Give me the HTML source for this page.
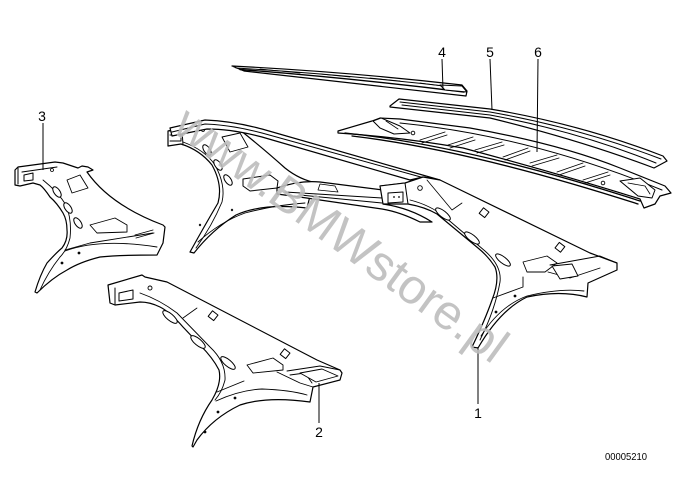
<!DOCTYPE html>
<html><head><meta charset="utf-8"><style>
html,body{margin:0;padding:0;background:#fff;}
svg{display:block;}
text{font-family:"Liberation Sans",Arial,sans-serif;}
</style></head><body>
<svg width="686" height="484" viewBox="0 0 686 484" xmlns="http://www.w3.org/2000/svg">
<rect width="686" height="484" fill="#fff"/>
<g fill="#fff" stroke="#000" stroke-width="1.2" stroke-linejoin="round" stroke-linecap="round">

<!-- PART 4 -->
<path d="M232,66 Q350,72 462,85 L467,91 L466,96 Q350,83 244,71 Z"/>
<path d="M236,68 Q350,75 462,88" fill="none" stroke-width="1"/>
<path d="M240,69.5 Q350,78 464,92" fill="none" stroke-width="1.4"/>
<path d="M260,69 L300,73 M320,74 L350,77 M370,78 L400,81 M420,83 L450,87" fill="none" stroke-width="0.8"/>
<path d="M440,85 L462,86 L467,92 L445,90 Z" stroke-width="1"/>

<!-- PART 5 -->
<path d="M390,106 L399,99 L490,109 Q580,124 663,156 L667,161 L654,168 Q580,140 490,118 L390,107 Z"/>
<path d="M400,102 L490,112 Q580,128 661,159 M402,105 L490,115 Q580,132 656,163" fill="none" stroke-width="1"/>

<!-- PART 6 -->
<path d="M338,131 L372,121 L380,118 L400,119 L470,128 Q560,144 620,168 L665,186 L671,193 L660,196 L655,204 L644,208 L640,199 Q560,174 463,148 Q400,137 338,133 Z"/>
<path d="M400,123 Q530,136 662,190" fill="none" stroke-width="1"/>
<path d="M345,133 Q470,146 640,201 M352,136 Q470,150 638,204" fill="none" stroke-width="1.3"/>
<path d="M373,121 L381,118 L400,126 L410,133 L394,134 L380,128 Z" stroke-width="1"/>
<path d="M386,121 L398,129" fill="none" stroke-width="0.8"/>
<g stroke-width="0.9" fill="none">
<path d="M420,140 L445,132 M422,143 L447,135"/>
<path d="M448,145 L473,137 M450,148 L475,140"/>
<path d="M475,150 L502,142 M477,153 L504,145"/>
<path d="M503,157 L528,148 M505,160 L530,151"/>
<path d="M530,163 L557,155 M532,166 L559,158"/>
<path d="M557,172 L583,163 M559,175 L585,166"/>
<path d="M583,180 L608,172 M585,183 L610,175"/>
</g>
<circle cx="413" cy="133" r="1.8" stroke-width="0.9"/>
<circle cx="603" cy="183" r="1.8" stroke-width="0.9"/>
<path d="M620,181 L640,178 L655,190 L652,198 L638,196 Z" stroke-width="1"/>
<path d="M628,183 L645,186 L650,194" fill="none" stroke-width="0.8"/>

<!-- PART 1 : left pillar -->
<path d="M168,131 L203,123 L240,130 Q265,150 285,168 Q300,180 317,183 L310,196 L307,208 Q262,203 236,215 Q212,230 194,253 L190,252 Q205,225 218,203 Q223,185 212,165 Q200,150 181,144 L168,146 Z"/>
<path d="M183,142 Q205,150 215,165 Q226,185 222,202 Q212,226 196,248" fill="none" stroke-width="0.9"/>
<path d="M198,242 Q220,222 245,213 Q275,205 305,203" fill="none" stroke-width="0.9"/>
<path d="M168,131 L182,130 L183,145 M170,135 L181,135 L181,141 L170,141" fill="none" stroke-width="1"/>
<ellipse cx="207" cy="150" rx="6" ry="3" transform="rotate(55 207 150)" stroke-width="1"/>
<ellipse cx="218" cy="165" rx="6" ry="3" transform="rotate(55 218 165)" stroke-width="1"/>
<ellipse cx="228" cy="180" rx="6" ry="3" transform="rotate(55 228 180)" stroke-width="1"/>
<path d="M243,179 L270,175 L278,181 L277,188 L250,191 L243,186 Z" stroke-width="1"/>
<path d="M222,137 L240,133 L248,147 L230,152 Z" stroke-width="0.9"/>
<circle cx="203" cy="130" r="1.5" stroke-width="0.8"/>
<circle cx="232" cy="210" r="0.8" stroke-width="0.8"/>
<circle cx="200" cy="225" r="0.8" stroke-width="0.8"/>

<!-- PART 1 : crossbar -->
<path d="M277,188 Q300,180 320,182 L383,190 L383,204 Q410,208 432,222 L420,222 Q400,212 382,209 L320,200 Q300,197 292,196 L277,194 Z"/>
<path d="M285,192 L382,198 M300,195 L382,203" fill="none" stroke-width="0.9"/>
<path d="M320,184 L335,186 L338,192 L318,190 Z" stroke-width="0.8"/>

<!-- PART 1 : rail -->
<path d="M170,128 L205,120 Q232,121 262,129 L440,180 L423,177 L410,180 L262,137 Q232,129 207,129 L172,136 Z"/>
<path d="M172,132 L205,124 Q232,125 262,133 L428,179" fill="none" stroke-width="1"/>

<!-- PART 1 : right pillar -->
<path d="M380,186 L405,183 L423,177 L440,180 L590,253 L617,263 L617,270 L588,283 L587,297 Q560,290 527,297 Q500,310 478,348 L472,347 Q485,320 492,300 Q500,280 495,267 Q488,256 478,248 L437,214 Q425,207 408,204 L383,204 Z"/>
<path d="M410,200 Q430,205 445,217 L485,251 Q502,266 500,282 Q495,310 480,340" fill="none" stroke-width="0.9"/>
<path d="M481,336 Q500,306 527,296 Q560,288 584,291" fill="none" stroke-width="0.9"/>
<path d="M493,298 L523,287 L523,277" fill="none" stroke-width="0.9"/>
<path d="M380,186 L405,183 L408,204 M388,193 L403,192 L403,202 L388,203 Z" stroke-width="1"/>
<circle cx="394" cy="197" r="0.9" fill="#000" stroke="none"/>
<circle cx="399" cy="197" r="0.9" fill="#000" stroke="none"/>
<circle cx="420" cy="188" r="2.3" stroke-width="0.9"/>
<path d="M427,180 L452,210 L462,203" fill="none" stroke-width="0.8"/>
<ellipse cx="443" cy="214" rx="9" ry="3.2" transform="rotate(38 443 214)" stroke-width="1"/>
<ellipse cx="472" cy="238" rx="9" ry="3.2" transform="rotate(38 472 238)" stroke-width="1"/>
<ellipse cx="503" cy="260" rx="9" ry="3.2" transform="rotate(38 503 260)" stroke-width="1"/>
<rect x="481" y="209" width="7" height="7" transform="rotate(38 484 212)" stroke-width="1"/>
<rect x="556" y="244" width="7" height="7" transform="rotate(38 560 248)" stroke-width="1"/>
<path d="M523,262 L547,256 L557,263 L545,272 L527,272 Z" stroke-width="0.9"/>
<path d="M550,265 L600,256 L617,263 M548,272 L570,278 L600,268" fill="none" stroke-width="0.9"/>
<path d="M552,266 L572,264 L578,276 L560,279 Z" stroke-width="0.9"/>
<circle cx="515" cy="296" r="0.8"/>
<circle cx="496" cy="312" r="0.8"/>

<!-- PART 3 -->
<path d="M15,170 L18,167 L55,162 L63,163 L78,168 L82,166 L88,167 L93,170 L87,172 Q110,205 163,225 L165,227 L163,243 L157,255 Q120,255 100,257 Q80,262 67,270 Q52,278 37,293 L35,292 Q40,275 47,263 Q57,252 62,248 Q68,240 67,230 Q67,220 63,213 Q57,203 50,197 Q44,188 40,185 L33,183 L20,186 L15,185 Z"/>
<path d="M18,168 L18,184 M22,172 L57,167 M24,175 L33,173 L33,180 L24,181 Z" fill="none" stroke-width="1"/>
<path d="M43,180 Q58,192 66,205 Q72,220 70,238 Q67,250 60,257 Q48,272 40,290" fill="none" stroke-width="0.9"/>
<path d="M65,251 Q100,238 157,247" fill="none" stroke-width="0.9"/>
<path d="M65,250 L90,243 L153,233" fill="none" stroke-width="0.9"/>
<ellipse cx="57" cy="192" rx="6" ry="3" transform="rotate(55 57 192)" stroke-width="1"/>
<ellipse cx="68" cy="208" rx="6" ry="3" transform="rotate(55 68 208)" stroke-width="1"/>
<ellipse cx="78" cy="223" rx="6" ry="3" transform="rotate(55 78 223)" stroke-width="1"/>
<path d="M67,180 L80,175 L88,188 L72,193 Z" stroke-width="0.9"/>
<path d="M90,225 L115,218 L127,225 L127,232 L97,233 Z" stroke-width="0.9"/>
<path d="M135,235 L153,230 M136,238 L154,233" fill="none" stroke-width="0.9"/>
<circle cx="52" cy="170" r="1.5" stroke-width="0.8"/>
<circle cx="79" cy="253" r="0.8"/>
<circle cx="62" cy="263" r="0.8"/>

<!-- PART 2 -->
<path d="M108,285 L142,275 L145,277 L167,282 L317,360 L340,370 L342,373 L340,380 L313,387 L310,402 Q267,396 240,405 Q213,418 197,440 L193,447 L192,446 Q198,420 212,400 Q222,383 219,370 Q213,358 200,345 L183,327 Q170,312 160,307 Q150,302 140,302 L115,305 L110,303 Z"/>
<path d="M115,288 L115,304 M119,293 L133,290 L133,299 L119,301 Z" fill="none" stroke-width="1"/>
<path d="M140,293 Q160,300 177,313 L210,347 Q226,362 225,380 Q222,392 215,400" fill="none" stroke-width="0.9"/>
<path d="M216,401 Q240,390 262,389 Q290,390 307,395" fill="none" stroke-width="0.9"/>
<path d="M217,392 L244,381" fill="none" stroke-width="0.9"/>
<path d="M183,318 L197,308" fill="none" stroke-width="0.8"/>
<ellipse cx="170" cy="317" rx="9" ry="3.3" transform="rotate(40 170 317)" stroke-width="1"/>
<ellipse cx="198" cy="342" rx="9" ry="3.3" transform="rotate(40 198 342)" stroke-width="1"/>
<ellipse cx="228" cy="363" rx="9" ry="3.3" transform="rotate(40 228 363)" stroke-width="1"/>
<rect x="210" y="312" width="7" height="7" transform="rotate(38 213 315)" stroke-width="1"/>
<rect x="282" y="350" width="7" height="7" transform="rotate(38 285 353)" stroke-width="1"/>
<path d="M247,365 L273,358 L283,365 L283,370 L253,373 Z" stroke-width="0.9"/>
<path d="M277,372 L300,383 L313,387 M287,371 L320,366 L340,370 M290,375 L305,373 L312,383" fill="none" stroke-width="0.9"/>
<path d="M300,373 L322,369 L338,376 L316,382 Z" stroke-width="0.9"/>
<circle cx="150" cy="288" r="2" stroke-width="0.9"/>
<circle cx="235" cy="398" r="0.8"/>
<circle cx="218" cy="412" r="0.8"/>
<circle cx="205" cy="432" r="0.8"/>
</g>

<!-- Leader lines -->
<g stroke="#000" stroke-width="1" fill="none">
<line x1="43" y1="123" x2="43" y2="170"/>
<line x1="442" y1="59" x2="443" y2="90"/>
<line x1="490" y1="59" x2="492" y2="110"/>
<line x1="538" y1="59" x2="537" y2="152"/>
<line x1="319" y1="383" x2="319" y2="423"/>
<line x1="478" y1="347" x2="478" y2="404"/>
</g>

<!-- Labels -->
<g font-size="14" fill="#000" text-anchor="middle">
<text x="42" y="121">3</text>
<text x="442" y="57">4</text>
<text x="490" y="57">5</text>
<text x="538" y="57">6</text>
<text x="319" y="437">2</text>
<text x="478" y="418">1</text>
</g>
<text x="605" y="460" font-size="10.5" textLength="42" lengthAdjust="spacingAndGlyphs" fill="#000">00005210</text>

<!-- Watermark -->
<text x="0" y="0" transform="translate(171,131) rotate(36)" font-size="49" fill="#bdbdbd" fill-opacity="0.9">www.BMWstore.pl</text>
</svg>
</body></html>
